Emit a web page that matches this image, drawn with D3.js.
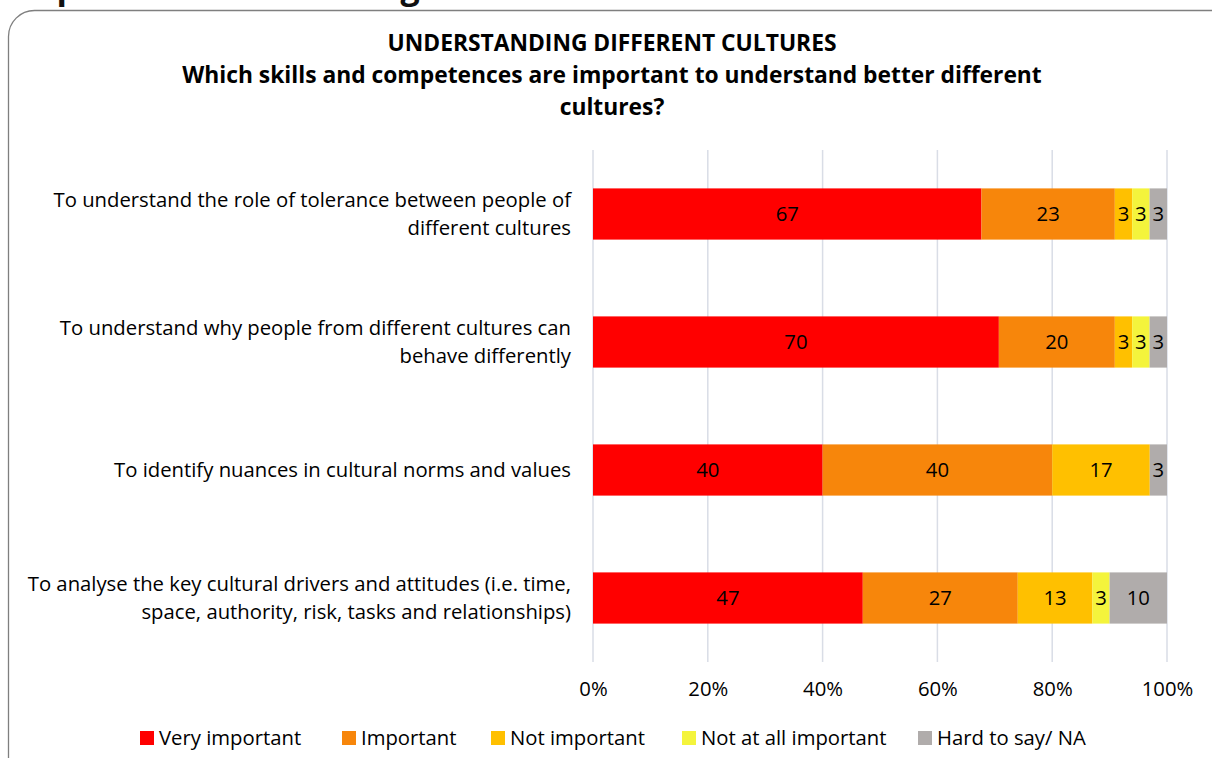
<!DOCTYPE html>
<html>
<head>
<meta charset="utf-8">
<script src="https://cdn.jsdelivr.net/npm/d3@7"></script>
<style>
  body { margin: 0; background: #fff; }
  svg { display: block; font-family: "Open Sans", Lato, sans-serif; }
</style>
</head>
<body>
<div id="chart"></div>
<script>
var categories = [
    ["To understand the role of tolerance between people of", "different cultures"],
    ["To understand why people from different cultures can", "behave differently"],
    ["To identify nuances in cultural norms and values"],
    ["To analyse the key cultural drivers and attitudes (i.e. time,", "space, authority, risk, tasks and relationships)"]
];

var series_names = ["Very important", "Important", "Not important", "Not at all important", "Hard to say/ NA"];
var series_colors = ["#ff0000", "#f7860b", "#ffc000", "#f4f43c", "#b0acab"];

var very_important = [67, 70, 40, 47];
var important = [23, 20, 40, 27];
var not_important = [3, 3, 17, 13];
var not_at_all = [3, 3, 0, 3];
var hard_to_say = [3, 3, 3, 10];

var x_ticks = [0, 0.2, 0.4, 0.6, 0.8, 1];

var title_lines = [
    "UNDERSTANDING DIFFERENT CULTURES",
    "Which skills and competences are important to understand better different",
    "cultures?"
];

var width = 1212, height = 758;
var margin = {left: 593, right: 45, top: 150, bottom: 96};
var fs = 20.3;

var svg = d3.select('#chart').append('svg')
    .attr('width', width)
    .attr('height', height);

// clipped heading from the page above the chart
svg.append('text')
    .attr('x', -4).attr('y', -1)
    .style('font-size', '34px').style('font-weight', 'bold').style('fill', '#111')
    .text('Graph 17: Understanding different cultures');

// chart frame
svg.append('rect')
    .attr('x', 8.5).attr('y', 10.5)
    .attr('width', 1230).attr('height', 800)
    .attr('rx', 26).attr('ry', 26)
    .style('fill', '#fff')
    .style('stroke', '#7f7f7f')
    .style('stroke-width', 1.3);

// title
var title = svg.append('text')
    .attr('text-anchor', 'middle')
    .style('font-weight', 'bold')
    .style('font-size', '22.8px')
    .style('fill', '#000');
title_lines.forEach(function(t, i){
    title.append('tspan').attr('x', 612).attr('y', 51 + i*32).text(t);
});

var rows = categories.map(function(c, i){
    var vals = [very_important[i], important[i], not_important[i], not_at_all[i], hard_to_say[i]];
    return {label: c, values: vals, total: d3.sum(vals)};
});

var x = d3.scaleLinear().domain([0, 1]).range([margin.left, width - margin.right]);
var y = d3.scaleBand().domain(d3.range(rows.length))
    .range([margin.top, height - margin.bottom])
    .paddingInner(0.6).paddingOuter(0.3);

// gridlines
svg.append('g').selectAll('line')
    .data(x_ticks)
    .enter().append('line')
    .attr('x1', d => x(d)).attr('x2', d => x(d))
    .attr('y1', margin.top).attr('y2', height - margin.bottom)
    .style('stroke', '#d9dde6')
    .style('stroke-width', 1.5);

// bars
rows.forEach(function(r, i){
    var offset = 0;
    var g = svg.append('g');
    r.values.forEach(function(v, j){
        if(v == 0){ return; }
        var x0 = x(offset / r.total);
        var x1 = x((offset + v) / r.total);
        g.append('rect')
            .attr('x', x0).attr('y', y(i))
            .attr('width', x1 - x0).attr('height', y.bandwidth())
            .style('fill', series_colors[j]);
        g.append('text')
            .attr('x', (x0 + x1) / 2)
            .attr('y', y(i) + y.bandwidth() / 2)
            .attr('dy', '0.35em')
            .attr('text-anchor', 'middle')
            .style('font-size', fs + 'px')
            .style('fill', '#000')
            .text(v);
        offset += v;
    });

    // category label
    var lbl = svg.append('text')
        .attr('text-anchor', 'end')
        .style('font-size', fs + 'px')
        .style('fill', '#000');
    var n = r.label.length;
    r.label.forEach(function(t, k){
        lbl.append('tspan')
            .attr('x', 571)
            .attr('y', y(i) + y.bandwidth() / 2 + (k - (n - 1) / 2) * 28)
            .attr('dy', '0.35em')
            .text(t);
    });
});

// x axis labels
var xAxis = d3.axisBottom(x).tickValues(x_ticks).tickFormat(d3.format('.0%')).tickSize(0).tickPadding(0);
var ax = svg.append('g')
    .attr('transform', 'translate(0,' + 682 + ')')
    .call(xAxis);
ax.select('.domain').remove();
ax.selectAll('text')
    .style('font-size', fs + 'px')
    .style('font-family', '"Open Sans", sans-serif')
    .style('fill', '#000');

// legend
var legend_x = [140, 342, 491, 682, 918];
var legend = svg.append('g').selectAll('g')
    .data(series_names)
    .enter().append('g')
    .attr('transform', (d, i) => 'translate(' + legend_x[i] + ',738)');
legend.append('rect')
    .attr('x', 0).attr('y', -7)
    .attr('width', 14).attr('height', 14)
    .style('fill', (d, i) => series_colors[i]);
legend.append('text')
    .attr('x', 19).attr('dy', '0.35em')
    .style('font-size', fs + 'px')
    .style('fill', '#000')
    .text(d => d);
</script>
</body>
</html>
